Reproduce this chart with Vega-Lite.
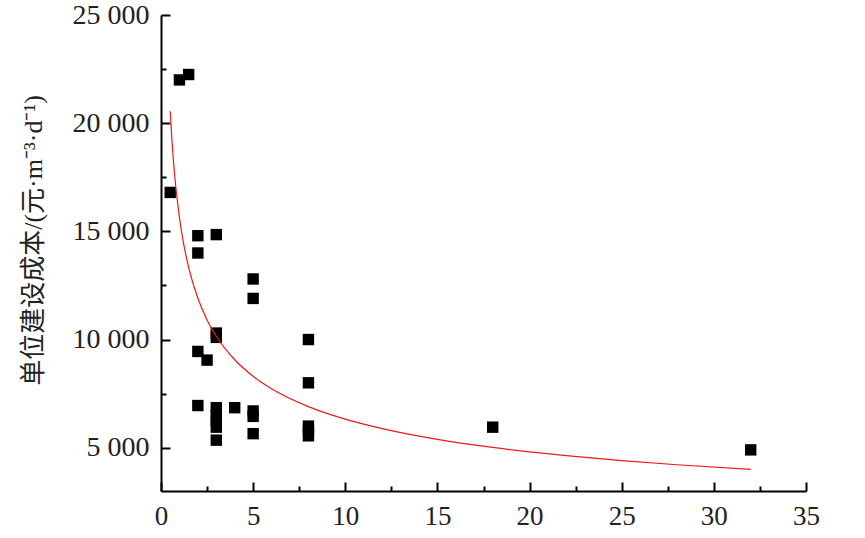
{
  "$schema": "https://vega.github.io/schema/vega-lite/v6.json",
  "width": 645,
  "height": 476,
  "autosize": {"type": "none"},
  "padding": {"left": 161, "top": 15, "right": 59, "bottom": 47},
  "background": "white",
  "config": {
    "view": {"stroke": null},
    "axis": {"grid": false, "labelFont": "Liberation Serif", "labelFontSize": 27}
  },
  "datasets": {
    "pts": [
      {"x": 0.5, "y": 16800},
      {"x": 1, "y": 22000},
      {"x": 1.5, "y": 22250},
      {"x": 2, "y": 14800},
      {"x": 2, "y": 14000},
      {"x": 3, "y": 14850},
      {"x": 5, "y": 12800},
      {"x": 5, "y": 11900},
      {"x": 3, "y": 10300},
      {"x": 3, "y": 10100},
      {"x": 2, "y": 9450},
      {"x": 2.5, "y": 9050},
      {"x": 8, "y": 10000},
      {"x": 8, "y": 8000},
      {"x": 2, "y": 6950},
      {"x": 3, "y": 6850},
      {"x": 3, "y": 6500},
      {"x": 3, "y": 6250},
      {"x": 3, "y": 5950},
      {"x": 3, "y": 5350},
      {"x": 4, "y": 6850},
      {"x": 5, "y": 6700},
      {"x": 5, "y": 6450},
      {"x": 5, "y": 5650},
      {"x": 8, "y": 6000},
      {"x": 8, "y": 5800},
      {"x": 8, "y": 5550},
      {"x": 18, "y": 5950},
      {"x": 32, "y": 4900}
    ],
    "fit": [
      {"x": 0.5, "y": 20555},
      {"x": 0.6, "y": 19131},
      {"x": 0.75, "y": 17521},
      {"x": 1, "y": 15645},
      {"x": 1.25, "y": 14329},
      {"x": 1.5, "y": 13338},
      {"x": 2, "y": 11909},
      {"x": 2.5, "y": 10906},
      {"x": 3, "y": 10152},
      {"x": 4, "y": 9065},
      {"x": 5, "y": 8303},
      {"x": 6, "y": 7727},
      {"x": 8, "y": 6899},
      {"x": 10, "y": 6319},
      {"x": 12, "y": 5882},
      {"x": 15, "y": 5387},
      {"x": 18, "y": 5014},
      {"x": 20, "y": 4811},
      {"x": 22, "y": 4634},
      {"x": 25, "y": 4406},
      {"x": 28, "y": 4213},
      {"x": 32, "y": 3997}
    ]
  },
  "layer": [
    {
      "data": {"name": "pts"},
      "mark": {"type": "point", "shape": "square", "filled": true, "size": 130, "color": "black", "opacity": 1},
      "encoding": {
        "x": {
          "field": "x", "type": "quantitative",
          "scale": {"domain": [0, 35], "nice": false, "zero": false},
          "axis": {
            "orient": "bottom",
            "values": [0, 5, 10, 15, 20, 25, 30, 35],
            "domainColor": "black",
            "domainWidth": 2,
            "tickSize": -9,
            "tickColor": "black",
            "tickWidth": 2,
            "labelPadding": 21,
            "labelColor": "#222222",
            "title": null,
            "labelFlush": false
          }
        },
        "y": {
          "field": "y", "type": "quantitative",
          "scale": {"domain": [3000, 25000], "nice": false, "zero": false},
          "axis": {
            "orient": "left",
            "values": [5000, 10000, 15000, 20000, 25000],
            "domainColor": "black",
            "domainWidth": 2,
            "tickSize": -9,
            "tickColor": "black",
            "tickWidth": 2,
            "labelPadding": 21,
            "labelFlush": false,
            "labelFontSize": 28,
            "labelColor": "#222222",
            "labelExpr": "replace(format(datum.value, ',d'), ',', ' ')",
            "title": "单位建设成本/(元·m⁻³·d⁻¹)",
            "titleColor": "#222222",
            "titleFont": "Liberation Serif, Noto Sans CJK SC",
            "titleFontSize": 26,
            "titleFontWeight": "normal",
            "titleAnchor": null,
            "titleAngle": -90,
            "titleAlign": "center",
            "titleBaseline": "middle",
            "titleX": -128,
            "titleY": 225
          }
        }
      }
    },
    {
      "data": {"name": "fit"},
      "mark": {"type": "line", "color": "#f01818", "strokeWidth": 1.2, "interpolate": "monotone"},
      "encoding": {
        "x": {
          "field": "x", "type": "quantitative",
          "scale": {"domain": [0, 35], "nice": false, "zero": false},
          "axis": {
            "orient": "bottom",
            "values": [2.5, 7.5, 12.5, 17.5, 22.5, 27.5, 32.5],
            "tickSize": -5,
            "tickColor": "black",
            "tickWidth": 2,
            "labels": false, "domain": false, "title": null
          }
        },
        "y": {
          "field": "y", "type": "quantitative",
          "scale": {"domain": [3000, 25000], "nice": false, "zero": false},
          "axis": {
            "orient": "left",
            "values": [7500, 12500, 17500, 22500],
            "tickSize": -5,
            "tickColor": "black",
            "tickWidth": 2,
            "labels": false, "domain": false, "title": null
          }
        }
      }
    }
  ],
  "resolve": {"axis": {"x": "independent", "y": "independent"}}
}
